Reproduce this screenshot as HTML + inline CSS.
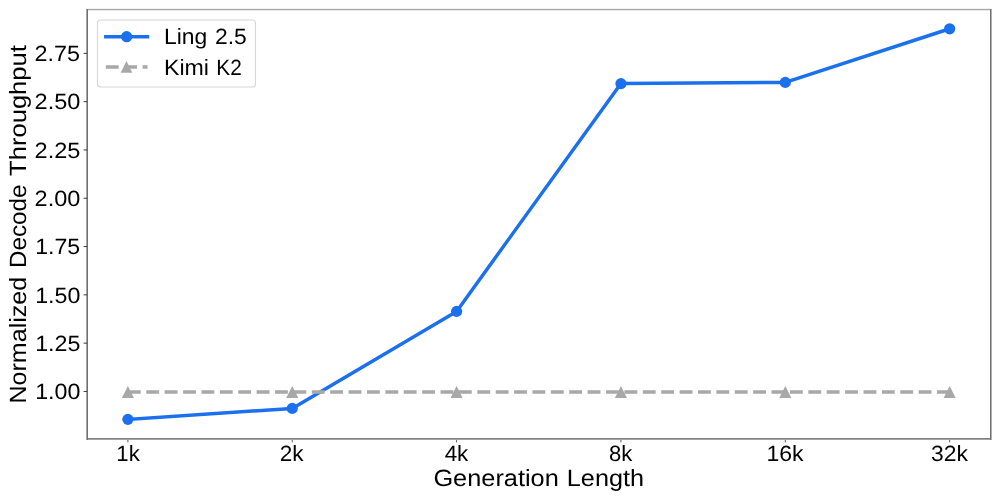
<!DOCTYPE html>
<html lang="en"><head><meta charset="utf-8"><title>Normalized Decode Throughput vs Generation Length</title>
<style>html,body{margin:0;padding:0;background:#fff;}body{width:1000px;height:500px;overflow:hidden;}svg{display:block;will-change:transform;}text{font-family:"Liberation Sans",sans-serif;fill:#000;font-kerning:none;text-rendering:geometricPrecision;}</style></head><body>
<svg width="1000" height="500" viewBox="0 0 1000 500">
<rect x="0" y="0" width="1000" height="500" fill="#ffffff"/>
<polyline points="127.90,419.36 292.25,408.40 456.60,311.40 620.95,83.60 785.30,82.40 949.65,28.80" fill="none" stroke="#1b70ed" stroke-width="3.47" stroke-linejoin="round" stroke-linecap="square"/>
<circle cx="127.90" cy="419.36" r="5.6" fill="#1b70ed"/>
<circle cx="292.25" cy="408.40" r="5.6" fill="#1b70ed"/>
<circle cx="456.60" cy="311.40" r="5.6" fill="#1b70ed"/>
<circle cx="620.95" cy="83.60" r="5.6" fill="#1b70ed"/>
<circle cx="785.30" cy="82.40" r="5.6" fill="#1b70ed"/>
<circle cx="949.65" cy="28.80" r="5.6" fill="#1b70ed"/>
<line x1="127.90" y1="391.9" x2="949.65" y2="391.9" stroke="#a8a8a8" stroke-width="3.47" stroke-dasharray="12.84 5.55"/>
<path d="M127.90 385.95 L133.95 397.95 L121.85 397.95 Z" fill="#a8a8a8"/>
<path d="M292.25 385.95 L298.30 397.95 L286.20 397.95 Z" fill="#a8a8a8"/>
<path d="M456.60 385.95 L462.65 397.95 L450.55 397.95 Z" fill="#a8a8a8"/>
<path d="M620.95 385.95 L627.00 397.95 L614.90 397.95 Z" fill="#a8a8a8"/>
<path d="M785.30 385.95 L791.35 397.95 L779.25 397.95 Z" fill="#a8a8a8"/>
<path d="M949.65 385.95 L955.70 397.95 L943.60 397.95 Z" fill="#a8a8a8"/>
<g shape-rendering="crispEdges">
<rect x="86" y="8" width="906" height="1" fill="#f1f1f1"/>
<rect x="86" y="9" width="906" height="1" fill="#a8a8a8"/>
<rect x="86" y="10" width="906" height="1" fill="#e9e9e9"/>
<rect x="86" y="438" width="906" height="1" fill="#7f7f7f"/>
<rect x="86" y="439" width="906" height="1" fill="#a5a5a5"/>
<rect x="86" y="9" width="1" height="431" fill="#a8a8a8"/>
<rect x="87" y="9" width="1" height="431" fill="#6e6e6e"/>
<rect x="990" y="9" width="1" height="431" fill="#707070"/>
<rect x="991" y="9" width="1" height="431" fill="#b0b0b0"/>
</g>
<line x1="127.90" y1="440" x2="127.90" y2="442.4" stroke="#333" stroke-width="0.8"/>
<line x1="292.25" y1="440" x2="292.25" y2="442.4" stroke="#333" stroke-width="0.8"/>
<line x1="456.60" y1="440" x2="456.60" y2="442.4" stroke="#333" stroke-width="0.8"/>
<line x1="620.95" y1="440" x2="620.95" y2="442.4" stroke="#333" stroke-width="0.8"/>
<line x1="785.30" y1="440" x2="785.30" y2="442.4" stroke="#333" stroke-width="0.8"/>
<line x1="949.65" y1="440" x2="949.65" y2="442.4" stroke="#333" stroke-width="0.8"/>
<line x1="83.6" y1="391.45" x2="87" y2="391.45" stroke="#222" stroke-width="0.9"/>
<line x1="83.6" y1="343.15" x2="87" y2="343.15" stroke="#222" stroke-width="0.9"/>
<line x1="83.6" y1="294.85" x2="87" y2="294.85" stroke="#222" stroke-width="0.9"/>
<line x1="83.6" y1="246.55" x2="87" y2="246.55" stroke="#222" stroke-width="0.9"/>
<line x1="83.6" y1="198.25" x2="87" y2="198.25" stroke="#222" stroke-width="0.9"/>
<line x1="83.6" y1="149.95" x2="87" y2="149.95" stroke="#222" stroke-width="0.9"/>
<line x1="83.6" y1="101.65" x2="87" y2="101.65" stroke="#222" stroke-width="0.9"/>
<line x1="83.6" y1="53.35" x2="87" y2="53.35" stroke="#222" stroke-width="0.9"/>
<text x="35.15" y="399.20" font-size="22.1" textLength="45.23" lengthAdjust="spacingAndGlyphs">1.00</text>
<text x="35.15" y="350.90" font-size="22.1" textLength="45.30" lengthAdjust="spacingAndGlyphs">1.25</text>
<text x="35.15" y="302.60" font-size="22.1" textLength="45.23" lengthAdjust="spacingAndGlyphs">1.50</text>
<text x="35.16" y="254.30" font-size="22.1" textLength="44.98" lengthAdjust="spacingAndGlyphs">1.75</text>
<text x="34.60" y="206.00" font-size="22.1" textLength="45.79" lengthAdjust="spacingAndGlyphs">2.00</text>
<text x="34.60" y="157.70" font-size="22.1" textLength="45.86" lengthAdjust="spacingAndGlyphs">2.25</text>
<text x="34.60" y="109.40" font-size="22.1" textLength="45.79" lengthAdjust="spacingAndGlyphs">2.50</text>
<text x="34.60" y="61.10" font-size="22.1" textLength="45.55" lengthAdjust="spacingAndGlyphs">2.75</text>
<text x="116.31" y="460.90" font-size="22.1" textLength="23.44" lengthAdjust="spacingAndGlyphs">1k</text>
<text x="279.84" y="460.90" font-size="22.1" textLength="23.80" lengthAdjust="spacingAndGlyphs">2k</text>
<text x="444.65" y="460.90" font-size="22.1" textLength="23.70" lengthAdjust="spacingAndGlyphs">4k</text>
<text x="609.01" y="460.90" font-size="22.1" textLength="23.35" lengthAdjust="spacingAndGlyphs">8k</text>
<text x="766.46" y="460.90" font-size="22.1" textLength="37.08" lengthAdjust="spacingAndGlyphs">16k</text>
<text x="930.98" y="460.90" font-size="22.1" textLength="36.96" lengthAdjust="spacingAndGlyphs">32k</text>
<text y="485.80" font-size="23.5"><tspan x="433.41" textLength="125.41" lengthAdjust="spacingAndGlyphs">Generation</tspan> <tspan x="566.83" textLength="77.19" lengthAdjust="spacingAndGlyphs">Length</tspan></text>
<text transform="translate(26.0 401.5) rotate(-90)" y="0" font-size="23.5"><tspan x="-1.96" textLength="126.56" lengthAdjust="spacingAndGlyphs">Normalized</tspan> <tspan x="133.61" textLength="83.37" lengthAdjust="spacingAndGlyphs">Decode</tspan> <tspan x="225.60" textLength="130.81" lengthAdjust="spacingAndGlyphs">Throughput</tspan></text>
<rect x="97.5" y="20" width="158" height="67" rx="3" ry="3" fill="#ffffff" fill-opacity="0.8" stroke="#d6d6d6" stroke-width="1.1"/>
<line x1="105.8" y1="36.7" x2="147.5" y2="36.7" stroke="#1b70ed" stroke-width="3.47" stroke-linecap="square"/>
<circle cx="126.65" cy="36.7" r="5.6" fill="#1b70ed"/>
<line x1="105.8" y1="67.1" x2="147.5" y2="67.1" stroke="#a8a8a8" stroke-width="3.47" stroke-dasharray="12.84 5.55"/>
<path d="M126.50 61.10 L132.30 72.80 L120.70 72.80 Z" fill="#a8a8a8"/>
<text y="44.00" font-size="22.1"><tspan x="164.01" textLength="43.27" lengthAdjust="spacingAndGlyphs">Ling</tspan> <tspan x="214.93" textLength="31.80" lengthAdjust="spacingAndGlyphs">2.5</tspan></text>
<text y="74.50" font-size="22.1"><tspan x="163.99" textLength="45.04" lengthAdjust="spacingAndGlyphs">Kimi</tspan> <tspan x="216.37" textLength="25.47" lengthAdjust="spacingAndGlyphs">K2</tspan></text>
</svg></body></html>
